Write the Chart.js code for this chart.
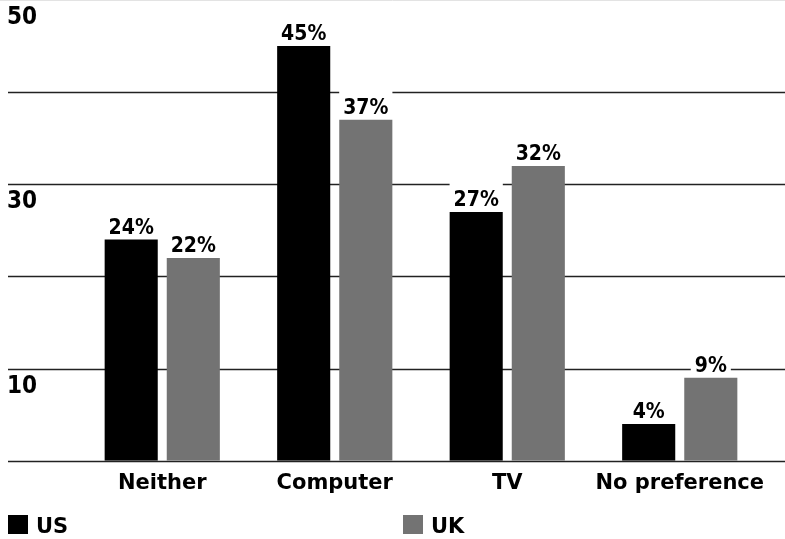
<!DOCTYPE html>
<html>
<head>
<meta charset="utf-8">
<script src="https://cdn.jsdelivr.net/npm/chart.js@4.4.1/dist/chart.umd.min.js"></script>
<style>
  html, body { margin: 0; padding: 0; background: #fff; }
  canvas { display: block; }
</style>
</head>
<body>
<canvas id="screenChart" width="785" height="539"></canvas>
<script>
// Screen preference, US vs UK (percent)
const categories = ["Neither", "Computer", "TV", "No preference"];
const usValues = [24, 45, 27, 4];
const ukValues = [22, 37, 32, 9];
const gridValues = [0, 10, 20, 30, 40, 50];
const axisLabels = [50, 30, 10];

const US_COLOR = "#000000";
const UK_COLOR = "#737373";
const NUM_FONT = "'DejaVu Sans Condensed', 'DejaVu Sans', sans-serif";
const TEXT_FONT = "'DejaVu Sans', sans-serif";

// full-width rules with the axis numbers sitting just under them
const gridPlugin = {
  id: "gridRules",
  beforeDatasetsDraw(chart) {
    const { ctx, width } = chart;
    const y = chart.scales.y;
    ctx.save();
    gridValues.forEach((v) => {
      const py = Math.round(y.getPixelForValue(v)) + 0.5;
      ctx.strokeStyle = v === 50 ? "#e3e3e3" : "#222222";
      ctx.lineWidth = v === 50 ? 1 : 1.6;
      ctx.beginPath();
      ctx.moveTo(v === 50 ? 0 : 8, Math.max(py, 0.5));
      ctx.lineTo(width, Math.max(py, 0.5));
      ctx.stroke();
    });
    ctx.fillStyle = "#000";
    ctx.font = "bold 24px " + NUM_FONT;
    ctx.textAlign = "left";
    ctx.textBaseline = "alphabetic";
    axisLabels.forEach((v) => {
      const py = y.getPixelForValue(v);
      ctx.fillText(String(v), 7, Math.max(py, 0) + 24);
    });
    ctx.restore();
  },
};

// percent labels above each bar, on a white patch that breaks the rules
const valueLabels = {
  id: "valueLabels",
  afterDatasetsDraw(chart) {
    const { ctx } = chart;
    ctx.save();
    ctx.font = "bold 21px " + NUM_FONT;
    ctx.textAlign = "center";
    ctx.textBaseline = "alphabetic";
    chart.data.datasets.forEach((ds, i) => {
      chart.getDatasetMeta(i).data.forEach((bar, j) => {
        const text = ds.data[j] + "%";
        const w = ctx.measureText(text).width;
        const base = bar.y - 6;
        ctx.fillStyle = "#fff";
        ctx.fillRect(bar.x - w / 2 - 4, base - 25, w + 8, 30);
        ctx.fillStyle = "#000";
        ctx.fillText(text, bar.x, base);
      });
    });
    ctx.restore();
  },
};

// two-column legend along the bottom
const bottomLegend = {
  id: "bottomLegend",
  afterDraw(chart) {
    const { ctx } = chart;
    const columns = [8, 403];
    ctx.save();
    ctx.font = "bold 21px " + TEXT_FONT;
    ctx.textAlign = "left";
    ctx.textBaseline = "alphabetic";
    chart.data.datasets.forEach((ds, i) => {
      const x = columns[i];
      ctx.fillStyle = ds.backgroundColor;
      ctx.fillRect(x, 515, 20, 19);
      ctx.fillStyle = "#000";
      ctx.fillText(ds.label, x + 28, 533);
    });
    ctx.restore();
  },
};

const ctx = document.getElementById("screenChart").getContext("2d");
new Chart(ctx, {
  type: "bar",
  data: {
    labels: categories,
    datasets: [
      {
        label: "US",
        data: usValues,
        backgroundColor: US_COLOR,
        borderWidth: 0,
        categoryPercentage: 0.72,
        barPercentage: 0.855,
      },
      {
        label: "UK",
        data: ukValues,
        backgroundColor: UK_COLOR,
        borderWidth: 0,
        categoryPercentage: 0.72,
        barPercentage: 0.855,
      },
    ],
  },
  options: {
    responsive: false,
    animation: false,
    layout: {
      padding: { left: 76, right: 19, top: 0, bottom: 41 },
    },
    scales: {
      x: {
        grid: { display: false },
        border: { display: false },
        ticks: {
          color: "#000",
          padding: 2,
          maxRotation: 0,
          autoSkip: false,
          font: { family: TEXT_FONT, weight: "bold", size: 21 },
        },
      },
      y: {
        display: false,
        min: 0,
        max: 50,
      },
    },
    plugins: {
      legend: { display: false },
      tooltip: { enabled: false },
    },
  },
  plugins: [gridPlugin, valueLabels, bottomLegend],
});
</script>
</body>
</html>
